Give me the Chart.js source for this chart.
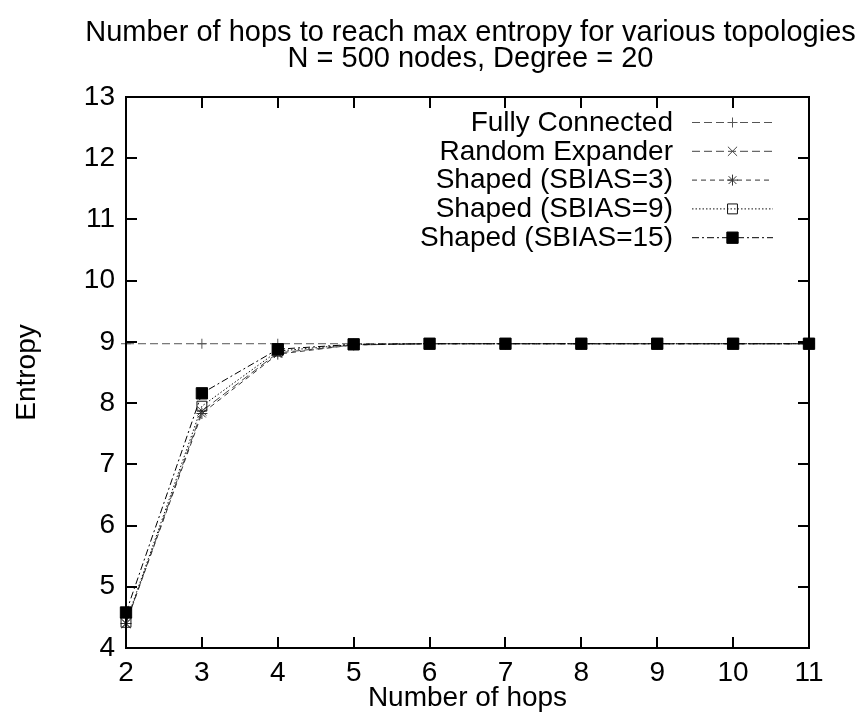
<!DOCTYPE html>
<html>
<head>
<meta charset="utf-8">
<title>Entropy vs hops</title>
<script src="https://cdn.jsdelivr.net/npm/chart.js@4.4.0/dist/chart.umd.min.js"></script>
<style>
    html, body { margin: 0; padding: 0; background: #fff; }
    #wrap { width: 858px; height: 721px; }
</style>
</head>
<body>
<div id="wrap"><canvas id="entropyChart" width="858" height="721"></canvas></div>
<script>
// === Data ===
const hops = [2, 3, 4, 5, 6, 7, 8, 9, 10, 11];
const fullyConnected = [8.97, 8.97, 8.97, 8.97, 8.97, 8.97, 8.97, 8.97, 8.97, 8.97];
const randomExpander = [4.40, 7.87, 8.82, 8.95, 8.97, 8.97, 8.97, 8.97, 8.97, 8.97];
const shapedSbias3 = [4.40, 7.83, 8.80, 8.95, 8.97, 8.97, 8.97, 8.97, 8.97, 8.97];
const shapedSbias9 = [4.42, 7.95, 8.85, 8.96, 8.97, 8.97, 8.97, 8.97, 8.97, 8.97];
const shapedSbias15 = [4.58, 8.16, 8.88, 8.96, 8.97, 8.97, 8.97, 8.97, 8.97, 8.97];

const titleLines = ['Number of hops to reach max entropy for various topologies', 'N = 500 nodes, Degree = 20'];
const xTicks = [2, 3, 4, 5, 6, 7, 8, 9, 10, 11];
const yTicks = [4, 5, 6, 7, 8, 9, 10, 11, 12, 13];

const FONT = "'Liberation Sans', Arial, Helvetica, sans-serif";
const FONT_SIZE = 28;

function toPoints(values) {
    return hops.map((h, i) => ({ x: h, y: values[i] }));
}

// dataset look: label, values, dash, marker
const series = [
    { label: 'Fully Connected', data: fullyConnected, dash: [8, 4], color: '#555', style: 'cross', radius: 5, fill: 'transparent' },
    { label: 'Random Expander', data: randomExpander, dash: [8, 4], color: '#444', style: 'crossRot', radius: 6.5, fill: 'transparent' },
    { label: 'Shaped (SBIAS=3)', data: shapedSbias3, dash: [5, 4], color: '#333', style: 'star', radius: 5.5, fill: 'transparent' },
    { label: 'Shaped (SBIAS=9)', data: shapedSbias9, dash: [1.5, 2], color: '#111', style: 'rect', radius: 7, fill: 'transparent' },
    { label: 'Shaped (SBIAS=15)', data: shapedSbias15, dash: [7, 3, 2, 3], color: '#000', style: 'rect', radius: 8, fill: '#000' }
];

// === Plugins ===
// two-line heading centred over the plot, allowed to run wider than it
const headingPlugin = {
    id: 'heading',
    afterDraw(chart) {
        const { ctx, chartArea: { left, right } } = chart;
        ctx.save();
        ctx.font = '29px ' + FONT;
        ctx.fillStyle = '#000';
        ctx.textAlign = 'center';
        ctx.textBaseline = 'middle';
        titleLines.forEach((line, i) => {
            ctx.fillText(line, (left + right) / 2 + 3, 33 + i * 26);
        });
        ctx.restore();
    }
};

// box round the plot with inward ticks on all four sides
const framePlugin = {
    id: 'frame',
    afterDraw(chart) {
        const { ctx, chartArea: { left, right, top, bottom }, scales: { x, y } } = chart;
        const tickLen = 11;
        ctx.save();
        ctx.strokeStyle = '#000';
        ctx.lineWidth = 2;
        ctx.beginPath();
        xTicks.forEach(v => {
            const px = Math.round(x.getPixelForValue(v));
            ctx.moveTo(px, bottom); ctx.lineTo(px, bottom - tickLen);
            ctx.moveTo(px, top); ctx.lineTo(px, top + tickLen);
        });
        yTicks.forEach(v => {
            const py = Math.round(y.getPixelForValue(v));
            ctx.moveTo(left, py); ctx.lineTo(left + tickLen, py);
            ctx.moveTo(right, py); ctx.lineTo(right - tickLen, py);
        });
        ctx.stroke();
        ctx.strokeRect(left, top, right - left, bottom - top);
        ctx.restore();
    }
};

// key in the upper right: text right aligned, then line sample with marker
const keyPlugin = {
    id: 'key',
    afterDraw(chart) {
        const { ctx } = chart;
        const textRight = 673;
        const lineStart = 692;
        const lineEnd = 773;
        const firstRow = 122;
        const rowGap = 28.8;
        ctx.save();
        ctx.font = FONT_SIZE + 'px ' + FONT;
        ctx.textAlign = 'right';
        ctx.textBaseline = 'middle';
        chart.data.datasets.forEach((ds, i) => {
            const yRow = firstRow + i * rowGap;
            ctx.fillStyle = '#000';
            ctx.fillText(ds.label, textRight, yRow + 1);
            ctx.strokeStyle = ds.borderColor;
            ctx.lineWidth = 1;
            ctx.setLineDash(ds.borderDash);
            ctx.beginPath();
            ctx.moveTo(lineStart, yRow + 0.5);
            ctx.lineTo(lineEnd, yRow + 0.5);
            ctx.stroke();
            ctx.setLineDash([]);
            ctx.fillStyle = ds.pointBackgroundColor;
            ctx.strokeStyle = ds.pointBorderColor;
            ctx.lineWidth = 1;
            Chart.helpers.drawPoint(ctx, {
                pointStyle: ds.pointStyle,
                radius: ds.pointRadius,
                borderWidth: 1,
                rotation: 0
            }, (lineStart + lineEnd) / 2, yRow + 0.5);
        });
        ctx.restore();
    }
};

// === Chart ===
const ctx = document.getElementById('entropyChart').getContext('2d');

new Chart(ctx, {
    type: 'line',
    data: {
        datasets: series.map((s, i) => ({
            label: s.label,
            data: toPoints(s.data),
            borderColor: s.color,
            borderWidth: 1,
            borderDash: s.dash,
            pointStyle: s.style,
            pointRadius: s.radius,
            pointBackgroundColor: s.fill,
            pointBorderColor: s.color,
            pointBorderWidth: 1,
            tension: 0,
            fill: false,
            clip: false,
            order: series.length - i
        }))
    },
    options: {
        responsive: false,
        animation: false,
        events: [],
        layout: { padding: { top: 97, right: 49, bottom: 0, left: 0 } },
        scales: {
            x: {
                type: 'linear',
                min: 2,
                max: 11,
                afterFit: (scale) => { scale.height = 73; },
                afterBuildTicks: (scale) => { scale.ticks = xTicks.map(v => ({ value: v })); },
                grid: { display: false },
                border: { display: false },
                ticks: {
                    padding: 0,
                    color: '#000',
                    font: { family: FONT, size: FONT_SIZE },
                    maxRotation: 0
                },
                title: {
                    display: true,
                    text: 'Number of hops',
                    color: '#000',
                    font: { family: FONT, size: FONT_SIZE, lineHeight: 1 },
                    padding: { top: 0, bottom: 9 }
                }
            },
            y: {
                min: 4,
                max: 13,
                afterFit: (scale) => { scale.width = 126; },
                afterBuildTicks: (scale) => { scale.ticks = yTicks.map(v => ({ value: v })); },
                grid: { display: false },
                border: { display: false },
                ticks: {
                    padding: 3,
                    color: '#000',
                    font: { family: FONT, size: FONT_SIZE }
                },
                title: {
                    display: true,
                    text: 'Entropy',
                    color: '#000',
                    font: { family: FONT, size: FONT_SIZE, lineHeight: 1 },
                    padding: { top: 13, bottom: 0 }
                }
            }
        },
        plugins: {
            legend: { display: false },
            tooltip: { enabled: false },
            title: { display: false }
        }
    },
    plugins: [headingPlugin, framePlugin, keyPlugin]
});
</script>
</body>
</html>
